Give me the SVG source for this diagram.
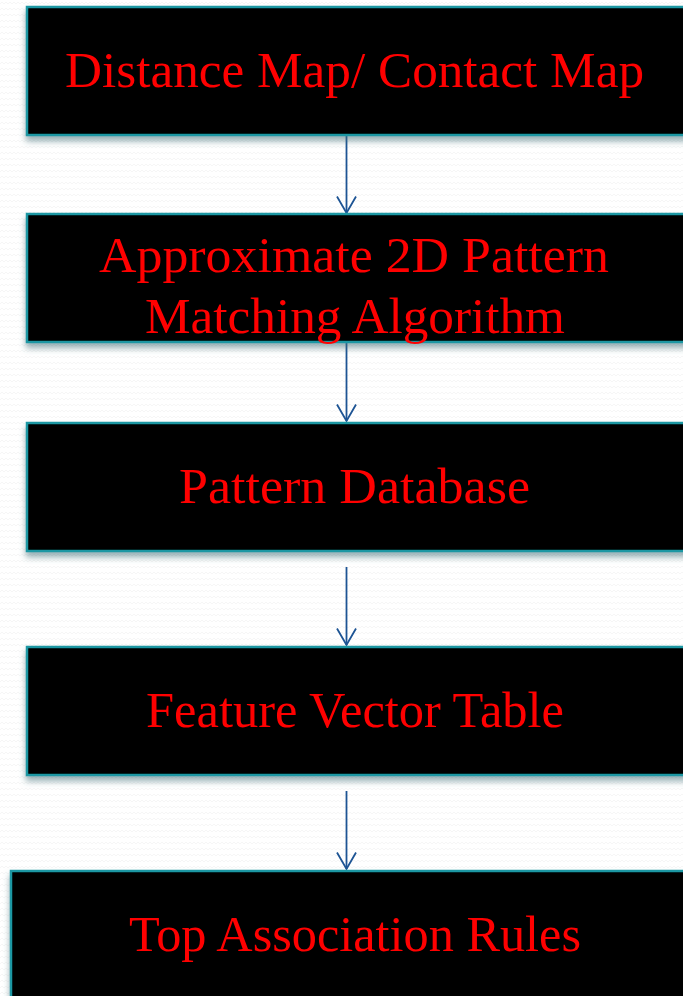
<svg xmlns="http://www.w3.org/2000/svg" width="683" height="996" viewBox="0 0 683 996">
<defs>
<pattern id="bg" width="8" height="6" patternUnits="userSpaceOnUse">
<rect width="8" height="6" fill="#ffffff"/>
<path d="M0 4 L2 2 L4 4 L6 2 L8 4" fill="none" stroke="#f2f2f2" stroke-width="0.7"/>
</pattern>
<filter id="sh" x="-5%" y="-10%" width="115%" height="130%">
<feDropShadow dx="0" dy="5" stdDeviation="3" flood-color="#3d6e78" flood-opacity="0.55"/>
</filter>
<marker id="ah" markerWidth="24" markerHeight="24" refX="17" refY="10" markerUnits="userSpaceOnUse" orient="auto" viewBox="0 0 24 24">
<path d="M0.5 0.5 L17 10 L0.5 19.5" fill="none" stroke="#1d5494" stroke-width="1.8"/>
</marker>
</defs>
<style>
.box{fill:#000;stroke:#1a97a3;stroke-width:2.5;filter:url(#sh)}
.lbl{font-family:"Liberation Serif","Times New Roman",serif;font-size:50px;fill:#ff0000}
.conn{stroke:#1d5494;stroke-width:1.8;fill:none}
</style>
<rect width="683" height="996" fill="url(#bg)"/>
<g id="connectors">
<line class="conn" x1="346.5" y1="135" x2="346.5" y2="213" marker-end="url(#ah)"/>
<line class="conn" x1="346.5" y1="343" x2="346.5" y2="421" marker-end="url(#ah)"/>
<line class="conn" x1="346.5" y1="567" x2="346.5" y2="645" marker-end="url(#ah)"/>
<line class="conn" x1="346.5" y1="791" x2="346.5" y2="869" marker-end="url(#ah)"/>
</g>
<g id="n1">
<rect class="box" x="27" y="7" width="670" height="128"/>
<text class="lbl" x="65" y="87" textLength="579" lengthAdjust="spacingAndGlyphs">Distance Map/ Contact Map</text>
</g>
<g id="n2">
<rect class="box" x="27" y="214" width="670" height="128"/>
<text class="lbl" x="99" y="272" textLength="510" lengthAdjust="spacingAndGlyphs">Approximate 2D Pattern</text>
<text class="lbl" x="145" y="333" textLength="420" lengthAdjust="spacingAndGlyphs">Matching Algorithm</text>
</g>
<g id="n3">
<rect class="box" x="27" y="423" width="670" height="128"/>
<text class="lbl" x="179" y="503" textLength="351" lengthAdjust="spacingAndGlyphs">Pattern Database</text>
</g>
<g id="n4">
<rect class="box" x="27" y="647" width="670" height="128"/>
<text class="lbl" x="146" y="727" textLength="418" lengthAdjust="spacingAndGlyphs">Feature Vector Table</text>
</g>
<g id="n5">
<rect class="box" x="11" y="871" width="686" height="140"/>
<text class="lbl" x="129" y="951" textLength="452" lengthAdjust="spacingAndGlyphs">Top Association Rules</text>
</g>
</svg>
